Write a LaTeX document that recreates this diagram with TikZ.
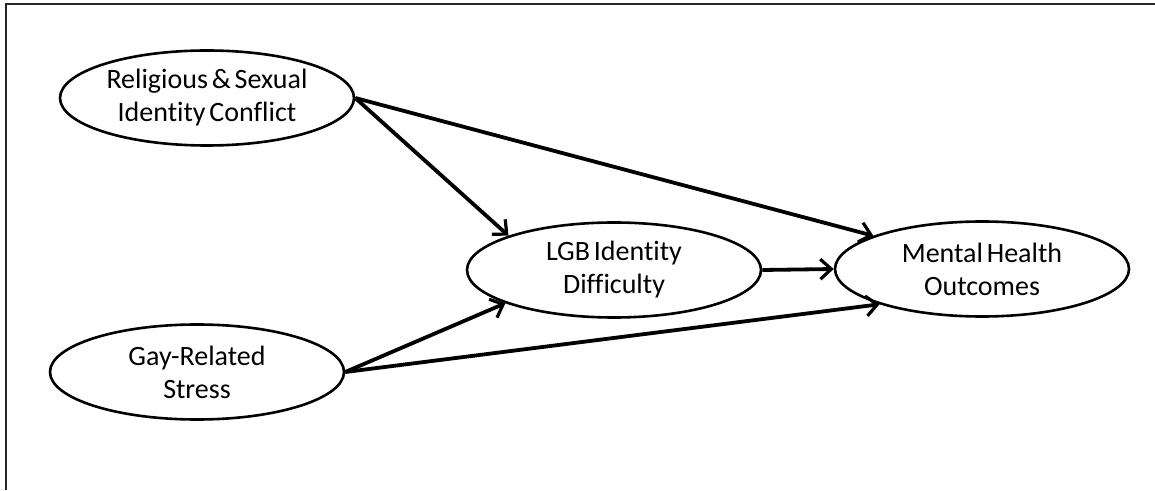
\documentclass[tikz,border=0pt]{standalone}
\usepackage{fontspec}
\setmainfont{Carlito}[Ligatures=NoCommon, WordSpace={0.6}]
\usepackage{tikz}
\usetikzlibrary{arrows.meta, shapes.geometric}
\tikzstyle{construct}=[ellipse, draw, line width=2.6pt, minimum width=294pt, minimum height=95pt,
  inner sep=0pt, align=center, font=\fontsize{28}{33}\selectfont]

\begin{document}
\begin{tikzpicture}[x=1pt, y=1pt, >={Straight Barb[length=11pt, width=20pt, line width=3.2pt]}]
    \useasboundingbox (0,0) rectangle (1155,490);
    \draw[line width=2pt, black!85] (6,0) -- (6,486) -- (1155,486);

    \node[construct] (rel)  at (207,392) {Religious \& Sexual\\Identity Conflict};
    \node[construct] (gay)  at (197,118) {Gay-Related\\Stress};
    \node[construct] (lgb)  at (614,220) {LGB Identity\\Difficulty};
    \node[construct] (ment) at (982,221) {Mental Health\\Outcomes};

    \path[->, line width=3.8pt]
      (rel.east) edge (lgb.162)
      (rel.east) edge (ment.163)
      (gay.east) edge (lgb.197)
      (gay.east) edge (ment.199)
      (lgb.east) edge (ment.west);
  \end{tikzpicture}
\end{document}
